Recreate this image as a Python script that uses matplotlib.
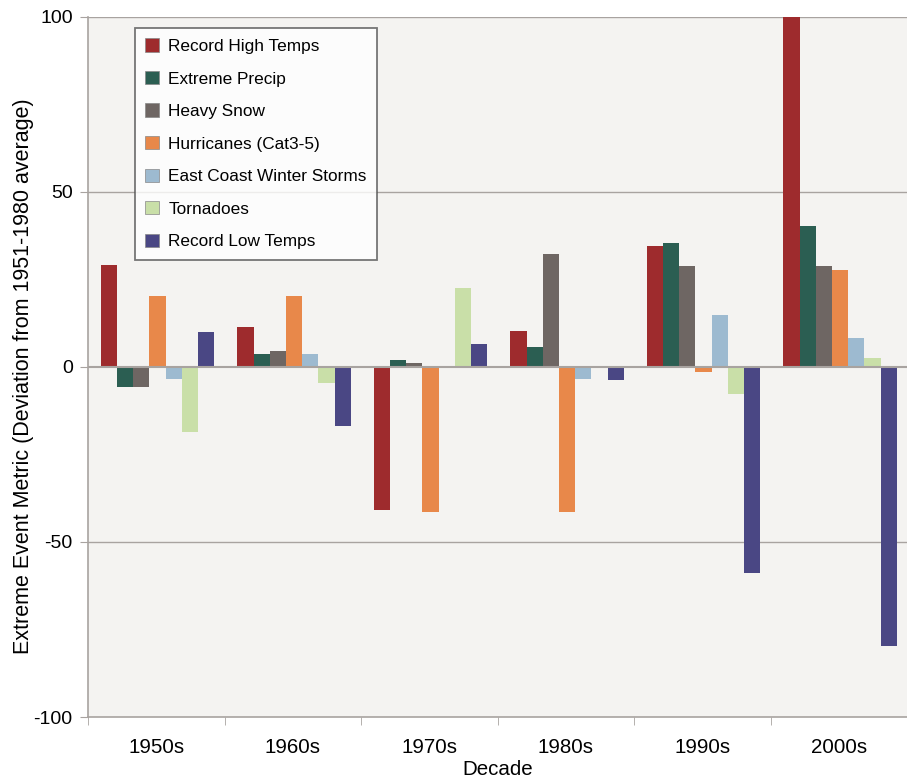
import matplotlib.pyplot as plt
import numpy as np

plt.rcParams['font.family'] = ['Liberation Sans', 'DejaVu Sans']

# Data
decades = ['1950s', '1960s', '1970s', '1980s', '1990s', '2000s']
series_names = ['Record High Temps', 'Extreme Precip', 'Heavy Snow', 'Hurricanes (Cat3-5)',
                'East Coast Winter Storms', 'Tornadoes', 'Record Low Temps']
record_high = [29.0, 11.4, -40.8, 10.2, 34.6, 100.0]
extreme_precip = [-5.8, 3.7, 2.0, 5.8, 35.3, 40.2]
heavy_snow = [-5.8, 4.7, 1.1, 32.4, 28.9, 28.9]
hurricanes = [20.4, 20.4, -41.4, -41.4, -1.3, 27.8]
east_coast = [-3.3, 3.6, -0.4, -3.4, 14.9, 8.4]
tornadoes = [-18.5, -4.6, 22.5, 0.0, -7.7, 2.6]
record_low = [10.1, -16.9, 6.7, -3.6, -58.9, -79.7]

all_series = [record_high, extreme_precip, heavy_snow, hurricanes, east_coast, tornadoes, record_low]
colors = ['#9e2b2d', '#2b5e52', '#6e6663', '#e8884a', '#9dbad0', '#c9dfa8', '#4a4784']

fig = plt.figure(figsize=(9.07, 7.8), dpi=100)
ax = fig.add_axes([88 / 907, 63 / 780, 819 / 907, 700 / 780])
ax.set_facecolor('#f4f3f1')

x = np.arange(len(decades))
bar_w = 0.119
for i, (vals, col, name) in enumerate(zip(all_series, colors, series_names)):
    offs = (i - 3) * bar_w + 0.01
    ax.bar(x + offs, vals, width=bar_w, color=col, label=name, zorder=3)

ax.set_xlim(-0.5, -0.5 + 819 / 138)
ax.set_ylim(-100, 100)

# gridlines
for yv in [-50, 50, 100]:
    ax.axhline(yv, color='#a8a3a0', lw=1.0, zorder=1)
ax.axhline(0, color='#a8a3a0', lw=1.5, zorder=4)

ax.set_yticks([-100, -50, 0, 50, 100])
ax.set_yticklabels(['-100', '-50', '0', '50', '100'])
ax.tick_params(axis='y', length=6, color='#a8a3a0', labelsize=14, pad=5)

ax.set_xticks(x)
ax.set_xticklabels(decades)
ax.set_xticks(np.arange(-0.5, 6, 1.0), minor=True)
ax.tick_params(axis='x', which='major', length=0, labelsize=14.8, pad=15)
ax.tick_params(axis='x', which='minor', length=6, color='#a8a3a0')

for s in ['top', 'right']:
    ax.spines[s].set_visible(False)
for s in ['left', 'bottom']:
    ax.spines[s].set_color('#a8a3a0')
    ax.spines[s].set_linewidth(1.2)

ax.set_xlabel('Decade', fontsize=14.8, labelpad=2)
ax.set_ylabel('Extreme Event Metric (Deviation from 1951-1980 average)', fontsize=15.5,
              labelpad=0, y=0.487)

leg = ax.legend(loc='upper left', bbox_to_anchor=((135 - 88) / 819, (717 - 28) / 700),
                borderaxespad=0, prop={'size': 12.4}, frameon=True, fancybox=False,
                handlelength=0.82, handleheight=0.82, handletextpad=0.52,
                labelspacing=0.98, borderpad=0.6)
leg.get_frame().set_edgecolor('#555555')
leg.get_frame().set_linewidth(1.3)
leg.get_frame().set_facecolor('white')
for h in leg.legend_handles:
    h.set_edgecolor('#888888')
    h.set_linewidth(0.5)
leg.set_zorder(5)

fig.savefig('out.png', dpi=100)
